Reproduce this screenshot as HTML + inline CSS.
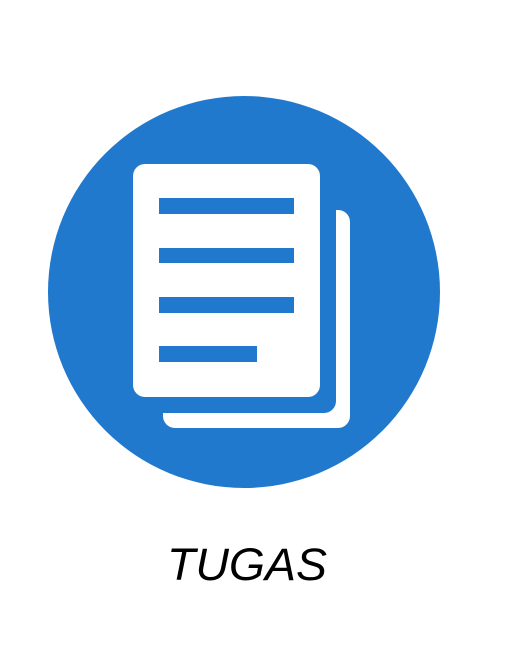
<!DOCTYPE html>
<html><head><meta charset="utf-8"><style>
html,body{margin:0;padding:0;background:#fff;width:512px;height:663px;overflow:hidden}
svg{display:block}
</style></head><body>
<svg width="512" height="663" viewBox="0 0 512 663">
<circle cx="244" cy="292" r="196" fill="#2179ce"/>
<g>
<rect x="163" y="210" width="187" height="218" rx="12" fill="#fff"/>
<rect x="150" y="190" width="186" height="223" rx="12" fill="#2179ce"/>
</g>
<g>
<rect x="133" y="164" width="187" height="233" rx="12" fill="#fff"/>
<rect x="159" y="198" width="135" height="16" fill="#2179ce"/>
<rect x="159" y="248" width="135" height="15" fill="#2179ce"/>
<rect x="159" y="297" width="135" height="16" fill="#2179ce"/>
<rect x="159" y="346" width="98" height="16" fill="#2179ce"/>
</g>
<text x="247" y="580" text-anchor="middle" font-family="'Liberation Sans',sans-serif" font-size="45" font-style="italic" fill="#000" textLength="160" lengthAdjust="spacingAndGlyphs">TUGAS</text>
</svg>
</body></html>
